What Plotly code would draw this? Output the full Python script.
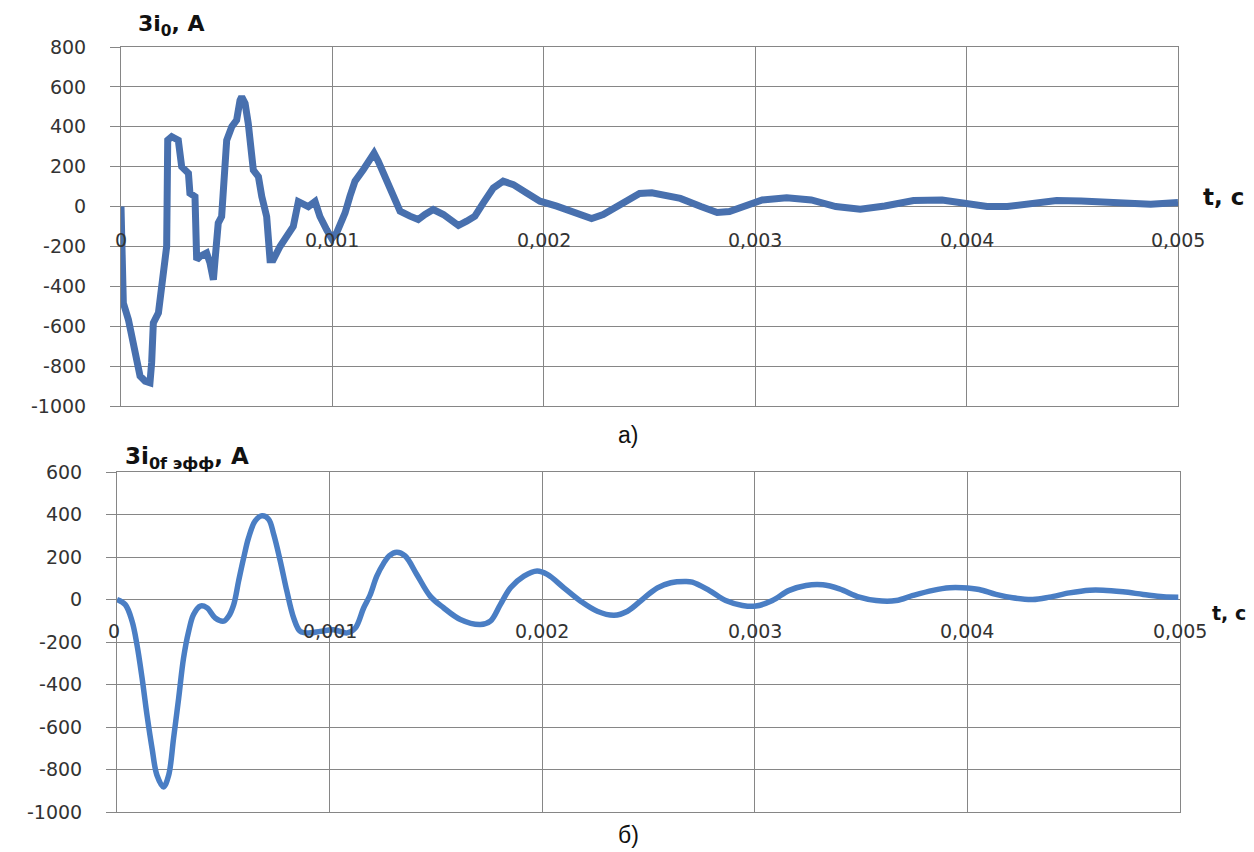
import plotly.graph_objects as go

# ---------------- data ----------------
t_a = [0, 0.000006, 0.000011, 0.000035, 0.000058, 0.000090, 0.000114, 0.000137, 0.000145, 0.000153,
       0.000177, 0.000192, 0.000208, 0.000216, 0.000221, 0.000240, 0.000271, 0.000287, 0.000319, 0.000326,
       0.000350, 0.000358, 0.000374, 0.000405, 0.000421, 0.000437, 0.000445, 0.000460, 0.000476, 0.000487,
       0.000500, 0.000524, 0.000547, 0.000563, 0.000571, 0.000587, 0.000602, 0.000626, 0.000650, 0.000666,
       0.000689, 0.000705, 0.000720, 0.000752, 0.000784, 0.000815, 0.000839, 0.000855, 0.000886, 0.000918,
       0.000941, 0.000973, 0.000997, 0.001020, 0.001060, 0.001083, 0.001107, 0.001146, 0.001178, 0.001197,
       0.001217, 0.001249, 0.001280, 0.001320, 0.001367, 0.001406, 0.001438, 0.001477, 0.001525, 0.001556,
       0.001596, 0.001635, 0.001674, 0.001714, 0.001761, 0.001808, 0.001856, 0.001919, 0.001982, 0.002061,
       0.002124, 0.002187, 0.002226, 0.002281, 0.002356, 0.002453, 0.002511, 0.002646, 0.002743, 0.002820,
       0.002878, 0.002956, 0.003033, 0.003149, 0.003265, 0.003381, 0.003497, 0.003613, 0.003749, 0.003884,
       0.004000, 0.004097, 0.004193, 0.004310, 0.004426, 0.004542, 0.004658, 0.004754, 0.004871, 0.005000]
i_a = [0, -420, -483, -567, -700, -850, -875, -883, -783, -583,
       -533, -383, -283, -200, 333, 350, 333, 200, 167, 67,
       50, -267, -250, -233, -283, -367, -267, -83, -50, 167,
       333, 400, 433, 533, 550, 517, 417, 183, 150, 50,
       -50, -267, -267, -200, -150, -100, 25, 17, 0, 25,
       -50, -117, -160, -132, -32, 52, 127, 185, 235, 268,
       227, 152, 68, -23, -48, -65, -40, -15, -40, -65,
       -95, -73, -48, 18, 93, 127, 110, 68, 27, 2,
       -23, -48, -60, -40, 8, 66, 69, 41, 0, -30,
       -25, 8, 33, 44, 33, 0, -13, 3, 30, 33,
       16, 0, 0, 16, 30, 28, 20, 11, 11, 20]

t_b = [0, 0.000039, 0.000071, 0.000094, 0.000118, 0.000141, 0.000165, 0.000188, 0.000219, 0.000243,
       0.000266, 0.000290, 0.000313, 0.000337, 0.000360, 0.000392, 0.000423, 0.000462, 0.000502, 0.000525,
       0.000549, 0.000572, 0.000596, 0.000619, 0.000650, 0.000682, 0.000713, 0.000737, 0.000768, 0.000799,
       0.000831, 0.000862, 0.000909, 0.000956, 0.001019, 0.001082, 0.001121, 0.001160, 0.001190, 0.001222,
       0.001254, 0.001280, 0.001316, 0.001355, 0.001410, 0.001473, 0.001536, 0.001615, 0.001709, 0.001756,
       0.001803, 0.001851, 0.001914, 0.001976, 0.002024, 0.002102, 0.002181, 0.002259, 0.002338, 0.002401,
       0.002480, 0.002542, 0.002605, 0.002670, 0.002706, 0.002785, 0.002863, 0.002942, 0.003005, 0.003083,
       0.003162, 0.003241, 0.003320, 0.003398, 0.003492, 0.003571, 0.003665, 0.003744, 0.003838, 0.003917,
       0.003976, 0.004055, 0.004134, 0.004213, 0.004307, 0.004386, 0.004480, 0.004575, 0.004638, 0.004732,
       0.004827, 0.004921, 0.004992]
i_b = [0, -24, -102, -213, -370, -543, -701, -827, -882, -827,
       -654, -465, -276, -150, -71, -31, -39, -87, -102, -79,
       -24, 87, 197, 291, 370, 394, 378, 307, 181, 39,
       -87, -150, -157, -150, -142, -157, -134, -40, 20, 110,
       170, 205, 222, 205, 118, 16, -39, -94, -118, -102,
       -24, 55, 110, 134, 118, 55, -8, -55, -74, -55,
       8, 55, 79, 85, 82, 43, -5, -28, -31, -5,
       43, 66, 69, 50, 11, -5, -5, 19, 43, 55,
       55, 47, 24, 8, 0, 11, 31, 44, 44, 36,
       24, 13, 11]

x_ticks = [0, 0.001, 0.002, 0.003, 0.004, 0.005]
x_tick_labels = ["0", "0,001", "0,002", "0,003", "0,004", "0,005"]
y_ticks_a = [-1000, -800, -600, -400, -200, 0, 200, 400, 600, 800]
y_labels_a = ["-1000", "-800", "-600", "-400", "-200", "0", "200", "400", "600", "800"]
y_ticks_b = [-1000, -800, -600, -400, -200, 0, 200, 400, 600]
y_labels_b = ["-1000", "-800", "-600", "-400", "-200", "0", "200", "400", "600"]

title_a = "<b>3i<sub>0</sub>, A</b>"
title_b = "<b>3i<sub>0f эфф</sub>, A</b>"
x_title = "<b>t, c</b>"
caption_a = "а)"
caption_b = "б)"

# ---------------- figure ----------------
W, H = 1254, 852
GRID = "#868686"
TICKFONT = dict(family="DejaVu Sans", size=19, color="#333333")

fig = go.Figure()
fig.add_trace(go.Scatter(x=t_a, y=i_a, mode="lines", xaxis="x", yaxis="y",
                         line=dict(color="#4870AE", width=7), showlegend=False))
fig.add_trace(go.Scatter(x=t_b, y=i_b, mode="lines", xaxis="x2", yaxis="y2",
                         line=dict(color="#4A7EC4", width=5.5, shape="spline", smoothing=1.0),
                         showlegend=False))

def xaxis(domain, anchor):
    return dict(domain=domain, anchor=anchor, range=[0, 0.005], tickvals=x_ticks,
                showticklabels=False, showgrid=True, gridcolor=GRID, gridwidth=1,
                showline=True, linecolor=GRID, mirror=True, zeroline=False, ticks="",
                automargin=False)

def yaxis(domain, anchor, rng, tv, tt):
    return dict(domain=domain, anchor=anchor, range=rng, tickvals=tv, ticktext=tt,
                showgrid=True, gridcolor=GRID, gridwidth=1, showline=True, linecolor=GRID,
                mirror=True, zeroline=True, zerolinecolor=GRID, zerolinewidth=1,
                ticks="outside", ticklen=10, tickcolor=GRID, tickfont=TICKFONT,
                ticklabelstandoff=20, automargin=False)

fig.update_layout(
    width=W, height=H,
    margin=dict(l=0, r=0, t=0, b=0, pad=0),
    paper_bgcolor="white", plot_bgcolor="white",
    xaxis=xaxis([121 / W, 1178 / W], "y"),
    yaxis=yaxis([1 - 406 / H, 1 - 47 / H], "x", [-1000, 800], y_ticks_a, y_labels_a),
    xaxis2=xaxis([117 / W, 1180 / W], "y2"),
    yaxis2=yaxis([1 - 812 / H, 1 - 472 / H], "x2", [-1000, 600], y_ticks_b, y_labels_b),
)

ann = []
for v, lab in zip(x_ticks, x_tick_labels):
    ann.append(dict(x=v, y=0, xref="x", yref="y", text=lab, showarrow=False,
                    xanchor="center", yanchor="middle", yshift=-33, font=TICKFONT))
    ann.append(dict(x=v, y=0, xref="x2", yref="y2", text=lab, showarrow=False,
                    xanchor="center", yanchor="middle",
                    yshift=-31, xshift=-3 if v == 0 else 0, font=TICKFONT))

ann += [
    dict(x=0, y=800, xref="x", yref="y", text=title_a, showarrow=False, xanchor="left",
         yanchor="middle", xshift=15, yshift=21,
         font=dict(family="DejaVu Sans", size=22, color="#111")),
    dict(x=0, y=600, xref="x2", yref="y2", text=title_b, showarrow=False, xanchor="left",
         yanchor="middle", xshift=6, yshift=14,
         font=dict(family="DejaVu Sans", size=23, color="#111")),
    dict(x=0.005, y=0, xref="x", yref="y", text=x_title, showarrow=False, xanchor="left",
         yanchor="middle", xshift=23, yshift=10,
         font=dict(family="DejaVu Sans", size=23, color="#111")),
    dict(x=0.005, y=0, xref="x2", yref="y2", text=x_title, showarrow=False, xanchor="left",
         yanchor="middle", xshift=30, yshift=-13,
         font=dict(family="DejaVu Sans", size=19, color="#111")),
    dict(x=628 / W, y=1 - 435 / H, xref="paper", yref="paper", text=caption_a, showarrow=False,
         xanchor="center", yanchor="middle",
         font=dict(family="Liberation Sans", size=23, color="#111")),
    dict(x=628 / W, y=1 - 835 / H, xref="paper", yref="paper", text=caption_b, showarrow=False,
         xanchor="center", yanchor="middle",
         font=dict(family="Liberation Sans", size=23, color="#111")),
]
fig.update_layout(annotations=ann)

fig.write_html("out.html", config={"displayModeBar": False},
               post_script="document.body.style.margin='0';document.body.style.overflow='hidden';")
